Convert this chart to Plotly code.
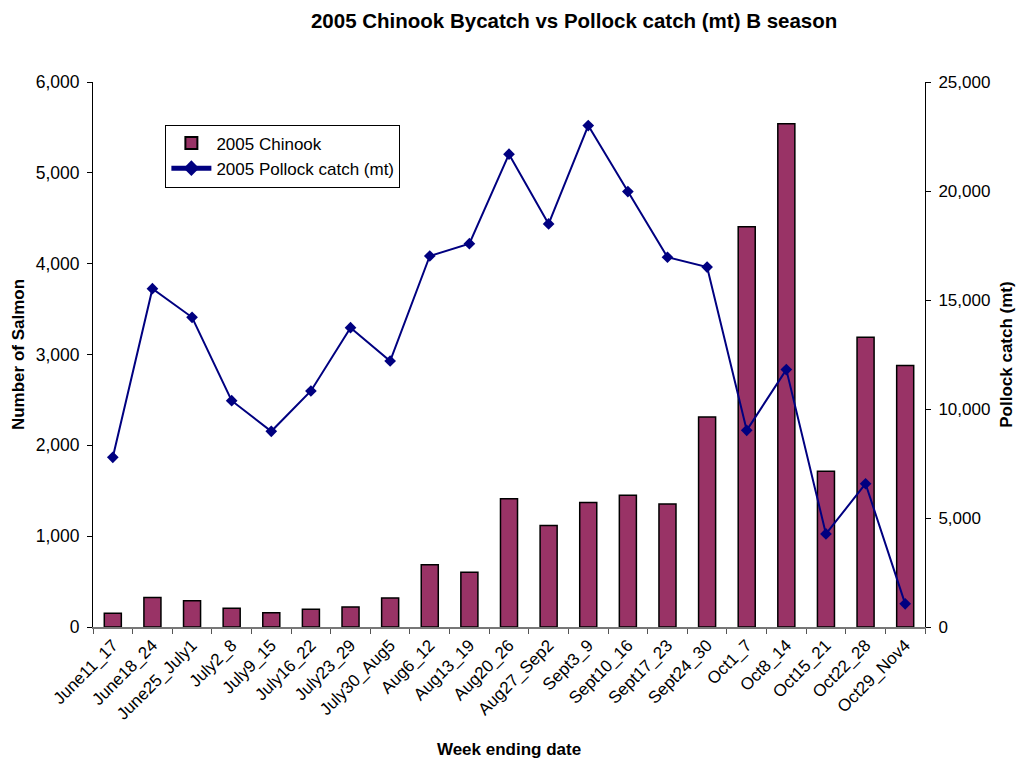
import plotly.graph_objects as go

weeks = ["June11_17", "June18_24", "June25_July1", "July2_8", "July9_15", "July16_22",
         "July23_29", "July30_Aug5", "Aug6_12", "Aug13_19", "Aug20_26", "Aug27_Sep2",
         "Sept3_9", "Sept10_16", "Sept17_23", "Sept24_30", "Oct1_7", "Oct8_14",
         "Oct15_21", "Oct22_28", "Oct29_Nov4"]
chinook = [151, 324, 290, 206, 158, 195, 221, 320, 684, 603, 1413, 1117,
           1372, 1450, 1353, 2312, 4407, 5539, 1716, 3189, 2880]
pollock = [7784, 15519, 14206, 10381, 8976, 10826, 13731, 12202, 17018, 17584, 21690, 18490,
           23003, 19974, 16962, 16511, 9021, 11807, 4269, 6572, 1063]

FONT = "Liberation Sans, Arial, sans-serif"
FS = 17

fig = go.Figure()
fig.add_trace(go.Bar(
    x=weeks, y=chinook, name="2005 Chinook",
    marker=dict(color="#993366", line=dict(color="black", width=1.5)),
    yaxis="y",
))
fig.add_trace(go.Scatter(
    x=weeks, y=pollock, name="2005 Pollock catch (mt)", mode="lines+markers",
    line=dict(color="#000080", width=2),
    marker=dict(symbol="diamond", size=9, color="#000080"),
    yaxis="y2",
))

fig.update_layout(
    width=1018, height=759,
    margin=dict(l=93, r=93, t=82, b=132),
    paper_bgcolor="white", plot_bgcolor="white",
    font=dict(family=FONT, size=FS, color="black"),
    title=dict(text="<b>2005 Chinook Bycatch vs Pollock catch (mt) B season</b>",
               x=0.564, xanchor="center", y=0.973, yanchor="middle",
               font=dict(family=FONT, size=20.5, color="black")),
    bargap=0.57,
    showlegend=True,
    legend=dict(x=0.087, y=0.922, xanchor="left", yanchor="top",
                bgcolor="white", bordercolor="black", borderwidth=1,
                font=dict(family=FONT, size=FS), tracegroupgap=0,
                itemsizing="constant", itemwidth=40),
    xaxis=dict(
        type="category", tickangle=-45, showgrid=False, automargin=False,
        showline=True, linecolor="#777", linewidth=1.5,
        ticks="outside", tickson="boundaries", ticklen=5, tickcolor="#555",
        tickfont=dict(family=FONT, size=FS),
        title=dict(text="<b>Week ending date</b>", font=dict(family=FONT, size=FS), standoff=24),
        range=[-0.5, 20.5],
    ),
    yaxis=dict(
        range=[0, 6000], dtick=1000, tickformat=",", showgrid=False, automargin=False,
        showline=True, linecolor="black", linewidth=1,
        ticks="outside", ticklen=5, tickcolor="black", ticklabelstandoff=4,
        tickfont=dict(family=FONT, size=17.5),
        title=dict(text="<b>Number of Salmon</b>", font=dict(family=FONT, size=FS), standoff=6),
        zeroline=False,
    ),
    yaxis2=dict(
        range=[0, 25000], dtick=5000, tickformat=",", showgrid=False, automargin=False,
        overlaying="y", side="right",
        showline=True, linecolor="black", linewidth=1,
        ticks="outside", ticklen=5, tickcolor="black", ticklabelstandoff=4,
        tickfont=dict(family=FONT, size=FS),
        title=dict(text="<b>Pollock catch (mt)</b>", font=dict(family=FONT, size=FS), standoff=10),
        zeroline=False,
    ),
)

fig.write_html("out.html")
